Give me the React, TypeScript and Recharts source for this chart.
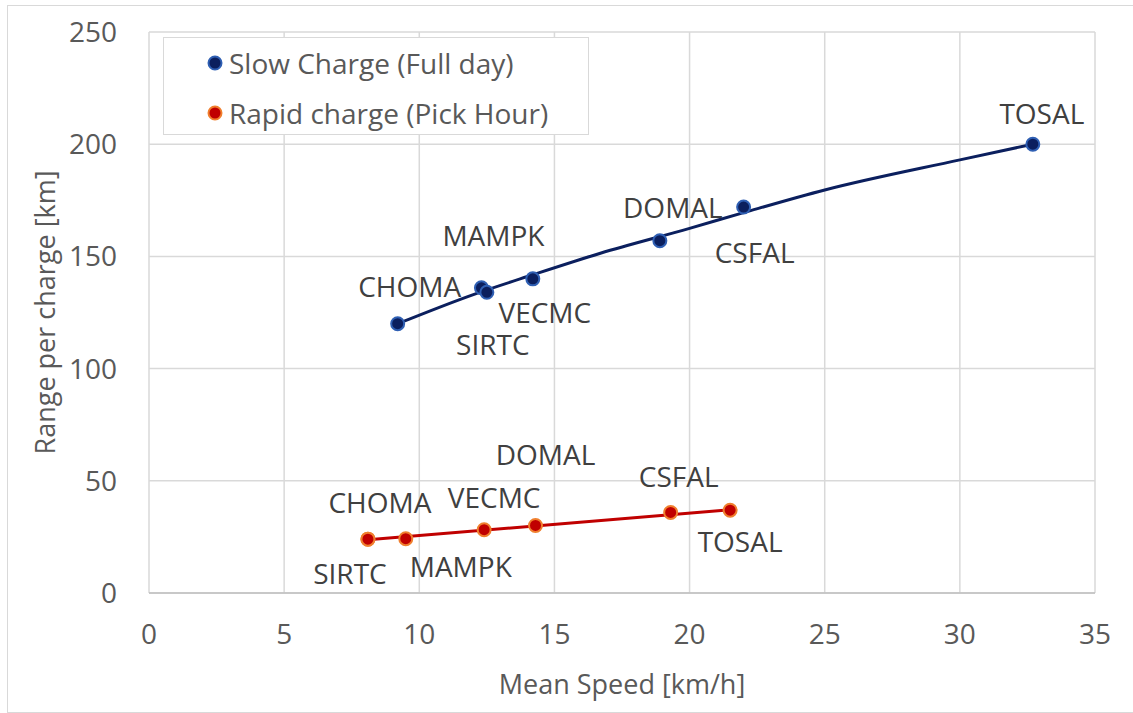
import {
  ComposedChart,
  Line,
  Scatter,
  XAxis,
  YAxis,
  CartesianGrid,
} from "recharts";

const stations = ["CHOMA", "MAMPK", "SIRTC", "VECMC", "DOMAL", "CSFAL", "TOSAL"];

// slow charge (full day)
const slowSpeed = [9.2, 12.3, 12.5, 14.2, 18.9, 22.0, 32.7];
const slowRange = [120, 136, 134, 140, 157, 172, 200];

// rapid charge (pick hour)
const rapidSpeed = [8.1, 9.5, 8.1, 12.4, 14.3, 19.3, 21.5];
const rapidRange = [24.0, 24.2, 24.0, 28.2, 30.1, 35.9, 36.9];

// trendlines
const slowTrendSpeed = [9.2, 12.0, 14.2, 16.7, 20.0, 22.0, 25.0, 30.0, 32.7];
const slowTrendRange = [120, 133, 141.8, 151.4, 162.5, 169.5, 179.6, 193, 200];
const rapidTrendSpeed = [8.1, 21.5];
const rapidTrendRange = [23.7, 37.1];

const xTicks = [0, 5, 10, 15, 20, 25, 30, 35];
const yTicks = [0, 50, 100, 150, 200, 250];

// label placement (px from marker centre), same order as stations
const slowLabelShift = [[12, -38], [12, -53], [6, 52], [12, 33], [13, -34], [11, 45], [9, -31]];
const rapidLabelShift = [[12, -37], [55, 27], [-18, 34], [10, -33], [10, -71], [8, -36], [10, 31]];

const FONT = "'Open Sans', 'Segoe UI', sans-serif";
const SLOW = "#0B1F5E";
const SLOW_RING = "#2F5FB3";
const RAPID = "#C00000";
const RAPID_RING = "#F07F2E";

const slowPoints = stations.map((name, i) => ({ name, x: slowSpeed[i], y: slowRange[i], i }));
const rapidPoints = stations.map((name, i) => ({ name, x: rapidSpeed[i], y: rapidRange[i], i }));
const slowTrend = slowTrendSpeed.map((x, i) => ({ x, y: slowTrendRange[i] }));
const rapidTrend = rapidTrendSpeed.map((x, i) => ({ x, y: rapidTrendRange[i] }));

const makeShape = (fill: string, ring: string, shifts: number[][]) => (props: any) => {
  const { cx, cy, payload } = props;
  const [dx, dy] = shifts[payload.i];
  return (
    <g>
      <circle cx={cx} cy={cy} r={6.5} fill={fill} stroke={ring} strokeWidth={2} />
      <text
        x={cx + dx}
        y={cy + dy}
        textAnchor="middle"
        dominantBaseline="central"
        fontSize={28}
        fill="#404040"
        fontFamily={FONT}
      >
        {payload.name}
      </text>
    </g>
  );
};

const legendItems = [
  { label: "Slow Charge (Full day)", fill: SLOW, ring: SLOW_RING },
  { label: "Rapid charge (Pick Hour)", fill: RAPID, ring: RAPID_RING },
];

const LegendBox = () => (
  <div
    style={{
      position: "absolute",
      left: 155,
      top: 31,
      border: "1px solid #d9d9d9",
      background: "#fff",
      width: 426,
      height: 98,
      boxSizing: "border-box",
      fontFamily: FONT,
      fontSize: 28,
      color: "#595959",
      paddingLeft: 43,
      paddingTop: 0,
    }}
  >
    {legendItems.map((it) => (
      <div key={it.label} style={{ display: "flex", alignItems: "center", height: 50 }}>
        <svg width={16} height={16} style={{ marginRight: 6 }}>
          <circle cx={8} cy={8} r={6.5} fill={it.fill} stroke={it.ring} strokeWidth={2} />
        </svg>
        {it.label}
      </div>
    ))}
  </div>
);

export default function App() {
  return (
    <div
      style={{
        position: "absolute",
        left: 7,
        top: 5,
        width: 1125,
        height: 706,
        border: "1px solid #d9d9d9",
        background: "#fff",
      }}
    >
      <ComposedChart
        width={1125}
        height={706}
        margin={{ top: 26, right: 38, left: 0, bottom: 59 }}
      >
        <CartesianGrid stroke="#d9d9d9" strokeWidth={1.5} />
        <XAxis
          type="number"
          dataKey="x"
          domain={[0, 35]}
          ticks={xTicks}
          axisLine={{ stroke: "#bfbfbf", strokeWidth: 1.5 }}
          tickLine={false}
          tickSize={0}
          tickMargin={31}
          height={60}
          tick={{ fontSize: 28, fill: "#595959", fontFamily: FONT }}
          label={{
            content: ({ viewBox }: any) => (
              <text
                x={viewBox.x + viewBox.width / 2}
                y={viewBox.y + 90}
                textAnchor="middle"
                dominantBaseline="central"
                fontSize={27}
                fill="#595959"
                fontFamily={FONT}
              >
                Mean Speed [km/h]
              </text>
            ),
          }}
        />
        <YAxis
          type="number"
          dataKey="y"
          domain={[0, 250]}
          ticks={yTicks}
          axisLine={false}
          tickLine={false}
          tickSize={0}
          tickMargin={32}
          width={141}
          tick={{ fontSize: 28, fill: "#595959", fontFamily: FONT }}
          label={{
            content: ({ viewBox }: any) => {
              const cx = 36;
              const cy = viewBox.y + viewBox.height / 2;
              return (
                <text
                  x={cx}
                  y={cy}
                  transform={`rotate(-90 ${cx} ${cy})`}
                  textAnchor="middle"
                  dominantBaseline="central"
                  fontSize={27}
                  fill="#595959"
                  fontFamily={FONT}
                >
                  Range per charge [km]
                </text>
              );
            },
          }}
        />
        <Line
          data={slowTrend}
          dataKey="y"
          type="monotone"
          stroke={SLOW}
          strokeWidth={3}
          dot={false}
          activeDot={false}
          isAnimationActive={false}
        />
        <Line
          data={rapidTrend}
          dataKey="y"
          type="linear"
          stroke={RAPID}
          strokeWidth={3}
          dot={false}
          activeDot={false}
          isAnimationActive={false}
        />
        <Scatter
          data={slowPoints}
          dataKey="y"
          shape={makeShape(SLOW, SLOW_RING, slowLabelShift)}
          isAnimationActive={false}
        />
        <Scatter
          data={rapidPoints}
          dataKey="y"
          shape={makeShape(RAPID, RAPID_RING, rapidLabelShift)}
          isAnimationActive={false}
        />
      </ComposedChart>
      <LegendBox />
    </div>
  );
}
